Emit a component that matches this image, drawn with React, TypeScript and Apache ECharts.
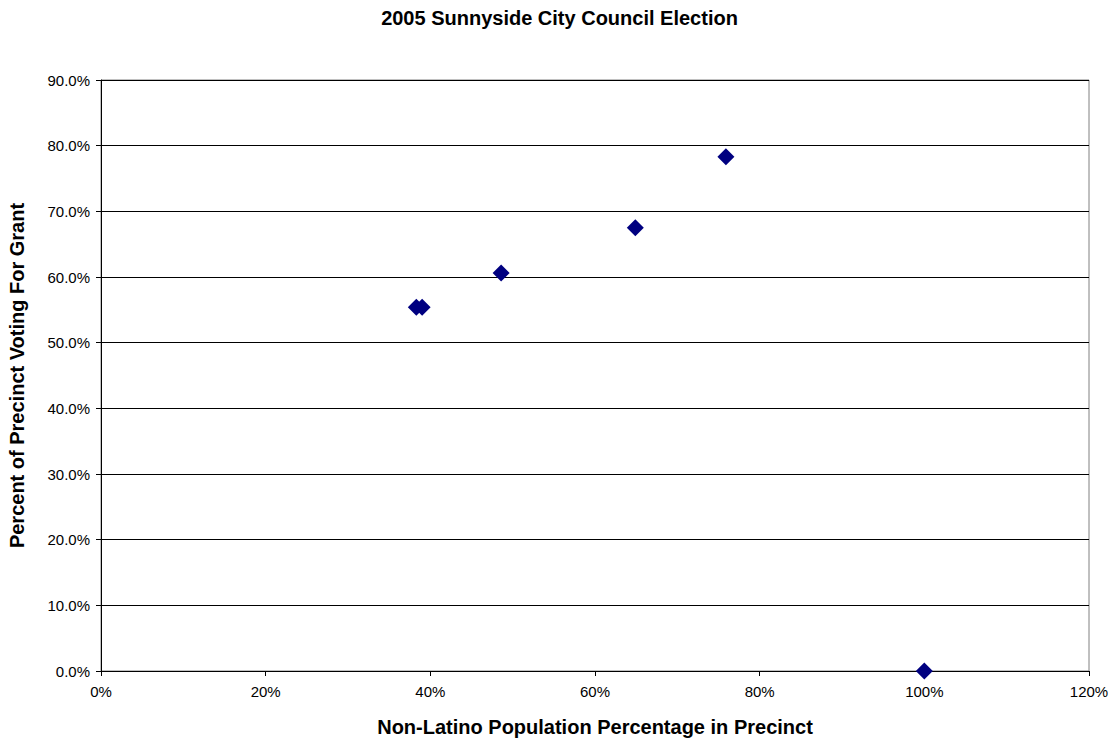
import React, { useEffect, useRef } from "react";
import * as echarts from "echarts";

const nonLatinoPct = [38.3, 39.0, 48.6, 64.9, 75.9, 100.0];
const grantVotePct = [55.4, 55.4, 60.6, 67.5, 78.3, 0.0];

const titleText = "2005 Sunnyside City Council Election";
const xAxisTitle = "Non-Latino Population Percentage in Precinct";
const yAxisTitle = "Percent of Precinct Voting For Grant";

export default function App() {
  const ref = useRef<HTMLDivElement>(null);

  useEffect(() => {
    if (!ref.current) return;
    const chart = echarts.init(ref.current, undefined, { renderer: "svg" });
    const font = "Liberation Sans, Arial, sans-serif";
    chart.setOption({
      animation: false,
      backgroundColor: "#ffffff",
      title: {
        text: titleText,
        left: "center",
        top: 3,
        textStyle: { fontFamily: font, fontSize: 20, fontWeight: "bold", color: "#000" },
      },
      grid: {
        left: 101,
        right: 30,
        top: 80,
        bottom: 69,
        containLabel: false,
        outerBoundsMode: "none",
        show: true,
        borderColor: "#808080",
        borderWidth: 1,
      },
      xAxis: {
        type: "value",
        min: 0,
        max: 120,
        interval: 20,
        name: xAxisTitle,
        nameLocation: "middle",
        nameGap: 46,
        nameTextStyle: { fontFamily: font, fontSize: 20, fontWeight: "bold", color: "#000" },
        axisLine: { show: true, onZero: false, lineStyle: { color: "#000", width: 1 } },
        axisTick: { show: true, inside: false, length: 5, lineStyle: { color: "#000" } },
        axisLabel: { formatter: "{value}%", fontFamily: font, fontSize: 15, color: "#000", margin: 13 },
        splitLine: { show: false },
      },
      yAxis: {
        type: "value",
        min: 0,
        max: 90,
        interval: 10,
        name: yAxisTitle,
        nameLocation: "middle",
        nameGap: 74,
        nameTextStyle: { fontFamily: font, fontSize: 20, fontWeight: "bold", color: "#000" },
        axisLine: { show: true, lineStyle: { color: "#000", width: 1 } },
        axisTick: { show: true, inside: false, length: 5, lineStyle: { color: "#000" } },
        axisLabel: {
          formatter: (v: number) => v.toFixed(1) + "%",
          fontFamily: font,
          fontSize: 15,
          color: "#000",
          margin: 11,
        },
        splitLine: { show: true, lineStyle: { color: "#000", width: 1 } },
      },
      series: [
        {
          type: "scatter",
          symbol: "diamond",
          symbolSize: 17,
          itemStyle: { color: "#000080", opacity: 1 },
          data: nonLatinoPct.map((x, i) => [x, grantVotePct[i]]),
          clip: false,
        },
      ],
    });
    return () => chart.dispose();
  }, []);

  return (
    <div
      ref={ref}
      style={{ position: "absolute", left: 0, top: 0, width: 1119, height: 740 }}
    />
  );
}
